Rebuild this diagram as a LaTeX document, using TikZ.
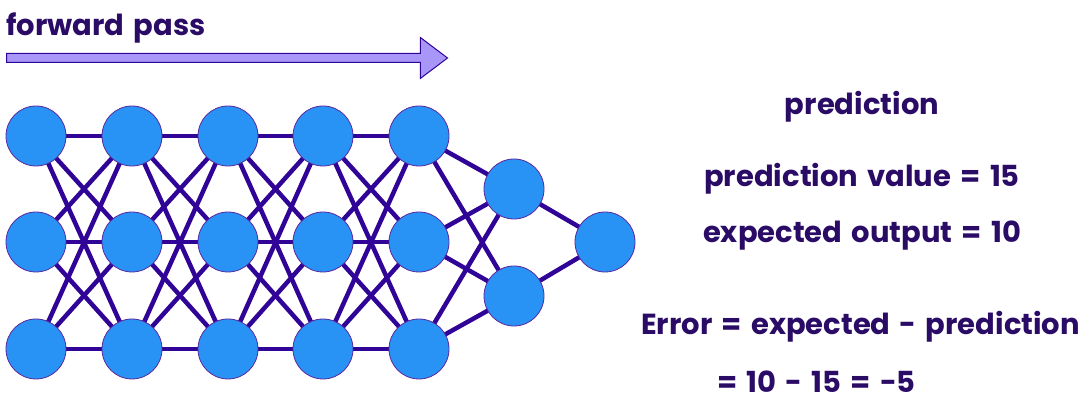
\documentclass[tikz,border=0pt]{standalone}
\usepackage{fontspec}
\setmainfont{Poppins}[WordSpace=1.5]
\usetikzlibrary{shapes.arrows}
\definecolor{nodeblue}{RGB}{40,146,245}
\definecolor{edgecol}{RGB}{48,4,150}
\definecolor{txtcol}{RGB}{42,12,102}
\definecolor{arrowfill}{RGB}{168,150,248}
\definecolor{ringcol}{RGB}{90,40,160}
\begin{document}
\begin{tikzpicture}[x=1pt,y=1pt,
  neuron/.style={circle,fill=nodeblue,draw=ringcol,line width=0.8pt,minimum size=60pt,inner sep=0pt},
  link/.style={draw=edgecol,line width=4.5pt},
  lbl/.style={text=txtcol,font=\bfseries\fontsize{29}{34}\selectfont,inner sep=0pt}]
\useasboundingbox (0,0) rectangle (1091,406);
% nodes
\foreach \c/\x in {1/36,2/132,3/228,4/323,5/419}{
  \foreach \r/\y in {1/270,2/164,3/57}{
    \coordinate (p\c\r) at (\x,\y);
  }
}
\coordinate (h1) at (514,217);
\coordinate (h2) at (514,110);
\coordinate (o) at (605,164);
% links
\foreach \c [evaluate=\c as \n using int(\c+1)] in {1,2,3,4}{
  \foreach \a in {1,2,3}{
    \foreach \b in {1,2,3}{
      \draw[link] (p\c\a) -- (p\n\b);
    }
  }
}
\foreach \a in {1,2,3}{
  \draw[link] (p5\a) -- (h1);
  \draw[link] (p5\a) -- (h2);
}
\draw[link] (h1) -- (o);
\draw[link] (h2) -- (o);
\foreach \c in {1,...,5}{
  \foreach \r in {1,2,3}{
    \node[neuron] (n\c\r) at (p\c\r) {};
  }
}
\node[neuron] (nh1) at (h1) {};
\node[neuron] (nh2) at (h2) {};
\node[neuron] (no) at (o) {};
% forward pass arrow
\node[single arrow, fill=arrowfill, draw=edgecol, line width=1pt,
  minimum height=441pt, inner xsep=0pt, inner ysep=4pt, text height=0pt, text depth=0pt,
  single arrow head extend=16pt, single arrow tip angle=74, anchor=west] (fa) at (6,348) {};
\node[lbl,anchor=base west] (fp) at (6,370) {forward pass};
% texts
\node[lbl,anchor=base] (t1) at (862,291) {prediction};
\node[lbl,anchor=base] (t2) at (862,219) {prediction value = 15};
\node[lbl,anchor=base] (t3) at (862,163) {expected output = 10};
\node[lbl,anchor=base west] (t4) at (641,71) {Error = expected - prediction};
\node[lbl,anchor=base west] (t5) at (717,13) {= 10 - 15 = -5};
\end{tikzpicture}
\end{document}
